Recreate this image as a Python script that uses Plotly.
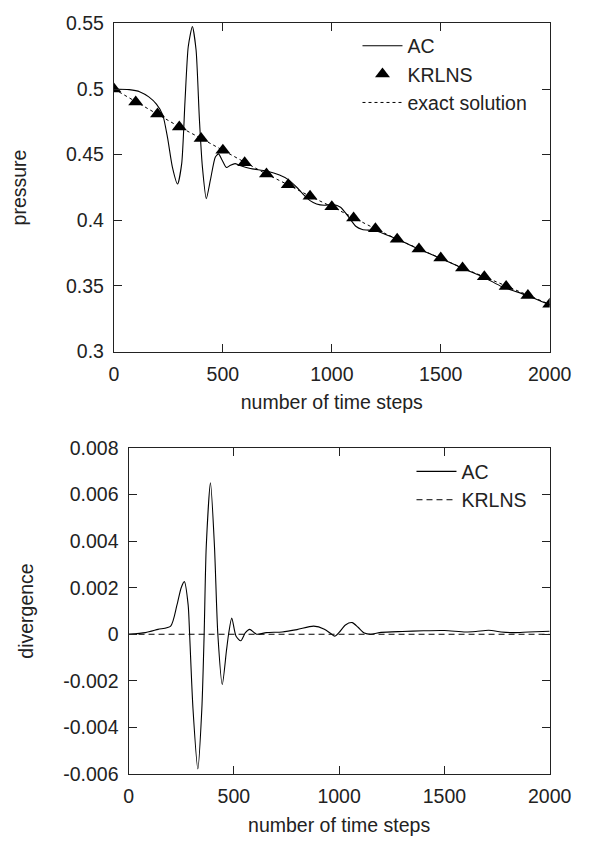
import plotly.graph_objects as go

# ---- top panel: pressure ----
ac_p_x = [0, 70, 120, 160, 195, 224, 246, 268, 292, 311, 326, 341, 360, 377,
          392, 406, 424, 443, 465, 480, 497, 516, 535, 556, 575, 626, 700, 760, 800, 840,
          870, 900, 930, 965, 1005, 1040, 1075, 1110, 1140, 1200, 1300, 1400, 1500,
          1600, 1700, 1780, 1850, 1900, 2000]
ac_p_y = [0.500, 0.4995, 0.4978, 0.4940, 0.4885, 0.4803, 0.4630, 0.4407,
          0.4276, 0.4432, 0.4902, 0.5322, 0.5476, 0.5297, 0.4778, 0.4407, 0.4165, 0.4309,
          0.4481, 0.4506, 0.4457, 0.4402, 0.4420, 0.4432, 0.4420, 0.4395, 0.4375, 0.4345,
          0.4310, 0.4250, 0.4195, 0.4150, 0.4125, 0.4115, 0.4120, 0.4100, 0.4030, 0.3955,
          0.3930, 0.3920, 0.3855, 0.3780, 0.3710, 0.3635, 0.3565, 0.3495, 0.3455, 0.3425,
          0.3355]

krlns_x = [0, 100, 200, 300, 400, 500, 600, 700, 800, 900, 1000, 1100, 1200, 1300, 1400,
           1500, 1600, 1700, 1800, 1900, 2000]
krlns_p = [0.5000, 0.4902, 0.4810, 0.4710, 0.4624, 0.4533, 0.4438, 0.4352, 0.4270, 0.4183,
           0.4104, 0.4017, 0.3935, 0.3856, 0.3781, 0.3712, 0.3637, 0.3570, 0.3496, 0.3427,
           0.3360]

exact_x = krlns_x
exact_p = [0.5000, 0.4902, 0.4810, 0.4712, 0.4624, 0.4533, 0.4440, 0.4352, 0.4270, 0.4183,
           0.4104, 0.4017, 0.3935, 0.3856, 0.3781, 0.3712, 0.3637, 0.3570, 0.3500, 0.3427,
           0.3360]

# ---- bottom panel: divergence ----
ac_d_x = [0, 80, 140, 200, 230, 250, 265, 283, 290, 306, 329, 348, 359, 369, 389, 408,
          424, 445, 465, 475, 490, 510, 533, 555, 575, 608, 654, 729, 800, 879, 930, 960,
          979, 1000, 1030, 1062, 1090, 1120, 1150, 1200, 1300, 1400, 1500, 1600, 1650,
          1710, 1770, 1830, 1900, 2000]
ac_d_y = [0.0, 0.00007, 0.00021, 0.00035, 0.00126, 0.00200, 0.00226, 0.00126, 0.0, -0.0032,
          -0.00579, -0.0032, 0.0, 0.00377, 0.00651, 0.00377, 0.0, -0.00216, -0.0007, 0.0,
          0.0007, -0.00007, -0.00028, 0.00007, 0.00021, 0.0, 0.00007, 0.0001, 0.0002,
          0.00035, 0.00022, 0.00003, -0.00008, 0.00008, 0.0004, 0.0005, 0.0003, 0.00005,
          0.0, 0.00008, 0.00012, 0.00015, 0.00016, 0.0001, 0.00012, 0.00017, 0.0001,
          0.00007, 0.0001, 0.00013]

krlns_d_x = [0, 2000]
krlns_d_y = [0.0, 0.0]

FONT = "Liberation Sans, Arial, Helvetica, sans-serif"
INK = "#222222"
FS = 19.5

fig = go.Figure()
fig.add_trace(go.Scatter(x=ac_p_x, y=ac_p_y, mode="lines", name="AC",
                         line=dict(color="black", width=1.1, shape="spline", smoothing=0.6),
                         xaxis="x", yaxis="y", legend="legend"))
fig.add_trace(go.Scatter(x=krlns_x, y=krlns_p, mode="markers", name="KRLNS",
                         marker=dict(symbol="triangle-up", size=13, color="black"),
                         xaxis="x", yaxis="y", legend="legend"))
fig.add_trace(go.Scatter(x=exact_x, y=exact_p, mode="lines", name="exact solution",
                         line=dict(color="black", width=1, dash="3px,3px"),
                         xaxis="x", yaxis="y", legend="legend"))
fig.add_trace(go.Scatter(x=ac_d_x, y=ac_d_y, mode="lines", name="AC",
                         line=dict(color="black", width=1.1, shape="spline", smoothing=0.7),
                         xaxis="x2", yaxis="y2", legend="legend2"))
fig.add_trace(go.Scatter(x=krlns_d_x, y=krlns_d_y, mode="lines", name="KRLNS",
                         line=dict(color="black", width=1, dash="6px,4px"),
                         xaxis="x2", yaxis="y2", legend="legend2"))

W, H = 608, 846
axis_common = dict(showline=True, linecolor=INK, linewidth=1.2, mirror="ticks",
                   ticks="inside", ticklen=8, tickcolor=INK, tickwidth=1,
                   showgrid=False, zeroline=False,
                   tickfont=dict(family=FONT, size=FS, color=INK))
title_font = dict(family=FONT, size=FS, color=INK)

fig.update_layout(
    width=W, height=H, margin=dict(l=0, r=0, t=0, b=0),
    paper_bgcolor="white", plot_bgcolor="white",
    font=dict(family=FONT, size=FS, color=INK),
    xaxis=dict(axis_common, domain=[114 / W, 570 / W], anchor="y",
               range=[0, 2000], tickvals=[0, 500, 1000, 1500, 2000],
               ticklabelstandoff=5,
               title=dict(text="number of time steps", standoff=11, font=title_font)),
    yaxis=dict(axis_common, domain=[1 - 349.7 / H, 1 - 12.7 / H], anchor="x",
               range=[0.3, 0.55], tickvals=[0.3, 0.35, 0.4, 0.45, 0.5, 0.55],
               ticktext=["0.3", "0.35", "0.4", "0.45", "0.5", "0.55"],
               ticklabelstandoff=5,
               title=dict(text="pressure", standoff=34, font=title_font)),
    xaxis2=dict(axis_common, domain=[129.3 / W, 570 / W], anchor="y2",
                range=[0, 2000], tickvals=[0, 500, 1000, 1500, 2000],
                ticklabelstandoff=5,
                title=dict(text="number of time steps", standoff=11, font=title_font)),
    yaxis2=dict(axis_common, domain=[1 - 783.3 / H, 1 - 448.7 / H], anchor="x2",
                range=[-0.006, 0.008],
                tickvals=[-0.006, -0.004, -0.002, 0, 0.002, 0.004, 0.006, 0.008],
                ticktext=["-0.006", "-0.004", "-0.002", "0", "0.002", "0.004", "0.006", "0.008"],
                ticklabelstandoff=5,
                title=dict(text="divergence", standoff=24, font=title_font)),
    legend=dict(x=552 / W, y=1 - 16 / H, xanchor="right", yanchor="top",
                bgcolor="rgba(0,0,0,0)", font=dict(family=FONT, size=FS, color=INK),
                tracegroupgap=0, itemwidth=40),
    legend2=dict(x=552 / W, y=1 - 453 / H, xanchor="right", yanchor="top",
                 bgcolor="rgba(0,0,0,0)", font=dict(family=FONT, size=FS, color=INK),
                 tracegroupgap=0, itemwidth=40),
    showlegend=True,
)

fig.write_html("out.html")
